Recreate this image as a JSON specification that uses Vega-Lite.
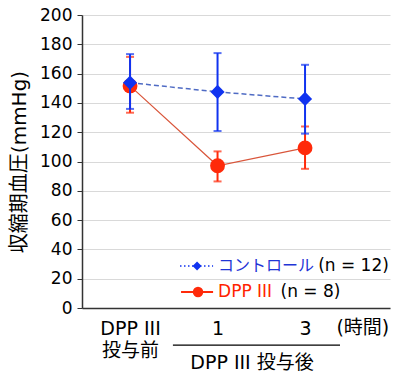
{
  "$schema": "https://vega.github.io/schema/vega-lite/v6.json",
  "width": 308,
  "height": 293,
  "autosize": "none",
  "padding": {"left": 82, "top": 15, "right": 3, "bottom": 73},
  "background": "white",
  "config": {
    "font": "DejaVu Sans, Noto Sans CJK JP",
    "view": {"stroke": null},
    "text": {"font": "DejaVu Sans, Noto Sans CJK JP"}
  },
  "datasets": {
    "bp": [
      {"group": "DPP III", "pos": 0, "mean": 151.6, "lo": 133.3, "hi": 171.4},
      {"group": "DPP III", "pos": 1, "mean": 97.1, "lo": 86.4, "hi": 106.9},
      {"group": "DPP III", "pos": 2, "mean": 109.3, "lo": 95.0, "hi": 123.9},
      {"group": "コントロール", "pos": 0, "mean": 153.8, "lo": 135.9, "hi": 173.3},
      {"group": "コントロール", "pos": 1, "mean": 147.5, "lo": 120.8, "hi": 174.0},
      {"group": "コントロール", "pos": 2, "mean": 142.7, "lo": 119.0, "hi": 166.0}
    ],
    "legendRows": [
      {"group": "コントロール", "y": 28.7, "a": 0.571, "b": 0.949, "s": 0.766},
      {"group": "DPP III", "y": 10.9, "a": 0.583, "b": 0.949, "s": 0.777}
    ],
    "blueText": [{"x": 1.006, "y": 28.7, "label": "コントロール"}],
    "redText": [{"x": 1.006, "y": 10.9, "label": "DPP III"}],
    "blackText": [
      {"x": 2.15, "y": 28.7, "label": "(n = 12)"},
      {"x": 1.72, "y": 10.9, "label": "(n = 8)"}
    ],
    "unitText": [{"x": 2.66, "y": -13.5, "label": "(時間)"}],
    "bottomText": [{"x": 1.394, "y": -37.5, "label": "DPP III 投与後"}],
    "bracket": [{"a": 0.49, "b": 2.4, "y": -25.3}]
  },
  "layer": [
    {
      "data": {"name": "bp"},
      "transform": [{"filter": "datum.group == 'DPP III'"}],
      "mark": {"type": "line", "color": "#d9553a", "strokeWidth": 1.2},
      "encoding": {
        "x": {
          "field": "pos", "type": "quantitative",
          "scale": {"domain": [-0.549, 2.971], "nice": false, "zero": false},
          "axis": {
            "title": null, "values": [0, 1, 2], "grid": false, "ticks": false,
            "labelExpr": "datum.value == 0 ? ['DPP III', '投与前'] : datum.value == 1 ? '1' : '3'",
            "labelFontSize": 19, "labelColor": "#000", "labelPadding": 11,
            "labelLineHeight": 22, "labelBaseline": "top", "labelOverlap": false, "labelFlush": false,
            "domainColor": "#333", "domainWidth": 1.5
          }
        },
        "y": {
          "field": "mean", "type": "quantitative",
          "scale": {"domain": [0, 200], "nice": false},
          "axis": {
            "title": "収縮期血圧(mmHg)", "values": [0, 20, 40, 60, 80, 100, 120, 140, 160, 180, 200],
            "tickCount": 11, "grid": true, "gridColor": "#d9d9d9", "gridWidth": 1.2,
            "labelFontSize": 17, "labelColor": "#000", "labelPadding": 5, "labelOverlap": false, "labelFlush": false,
            "tickSize": 5, "tickColor": "#333", "domainColor": "#333", "domainWidth": 1.5,
            "titleFontSize": 20, "titleFontWeight": "normal", "titleColor": "#000", "titlePadding": 10
          }
        }
      }
    },
    {
      "data": {"name": "bp"},
      "transform": [{"filter": "datum.group != 'DPP III'"}],
      "mark": {"type": "line", "color": "#4f6bc4", "strokeWidth": 1.5, "strokeDash": [5, 3]},
      "encoding": {
        "x": {"field": "pos", "type": "quantitative", "scale": {"domain": [-0.549, 2.971], "nice": false, "zero": false}},
        "y": {"field": "mean", "type": "quantitative", "scale": {"domain": [0, 200], "nice": false}, "title": "収縮期血圧(mmHg)"}
      }
    },
    {
      "data": {"name": "bp"},
      "transform": [{"filter": "datum.group == 'DPP III'"}],
      "mark": {"type": "rule", "color": "#ff2a0a", "strokeWidth": 2},
      "encoding": {
        "x": {"field": "pos", "type": "quantitative", "scale": {"domain": [-0.549, 2.971], "nice": false, "zero": false}},
        "y": {"field": "lo", "type": "quantitative", "scale": {"domain": [0, 200], "nice": false}, "title": "収縮期血圧(mmHg)"},
        "y2": {"field": "hi"}
      }
    },
    {
      "data": {"name": "bp"},
      "transform": [{"filter": "datum.group == 'DPP III'"}, {"fold": ["lo", "hi"], "as": ["k", "v"]}],
      "mark": {"type": "tick", "orient": "horizontal", "color": "#ff2a0a", "size": 8, "thickness": 2},
      "encoding": {
        "x": {"field": "pos", "type": "quantitative", "scale": {"domain": [-0.549, 2.971], "nice": false, "zero": false}},
        "y": {"field": "v", "type": "quantitative", "scale": {"domain": [0, 200], "nice": false}, "title": "収縮期血圧(mmHg)"}
      }
    },
    {
      "data": {"name": "bp"},
      "transform": [{"filter": "datum.group == 'DPP III'"}],
      "mark": {"type": "point", "shape": "circle", "filled": true, "color": "#ff2a0a", "size": 220, "opacity": 1},
      "encoding": {
        "x": {"field": "pos", "type": "quantitative", "scale": {"domain": [-0.549, 2.971], "nice": false, "zero": false}},
        "y": {"field": "mean", "type": "quantitative", "scale": {"domain": [0, 200], "nice": false}, "title": "収縮期血圧(mmHg)"}
      }
    },
    {
      "data": {"name": "bp"},
      "transform": [{"filter": "datum.group != 'DPP III'"}],
      "mark": {"type": "rule", "color": "#1033f0", "strokeWidth": 2},
      "encoding": {
        "x": {"field": "pos", "type": "quantitative", "scale": {"domain": [-0.549, 2.971], "nice": false, "zero": false}},
        "y": {"field": "lo", "type": "quantitative", "scale": {"domain": [0, 200], "nice": false}, "title": "収縮期血圧(mmHg)"},
        "y2": {"field": "hi"}
      }
    },
    {
      "data": {"name": "bp"},
      "transform": [{"filter": "datum.group != 'DPP III'"}, {"fold": ["lo", "hi"], "as": ["k", "v"]}],
      "mark": {"type": "tick", "orient": "horizontal", "color": "#1033f0", "size": 8, "thickness": 2},
      "encoding": {
        "x": {"field": "pos", "type": "quantitative", "scale": {"domain": [-0.549, 2.971], "nice": false, "zero": false}},
        "y": {"field": "v", "type": "quantitative", "scale": {"domain": [0, 200], "nice": false}, "title": "収縮期血圧(mmHg)"}
      }
    },
    {
      "data": {"name": "bp"},
      "transform": [{"filter": "datum.group != 'DPP III'"}],
      "mark": {"type": "point", "shape": "diamond", "filled": true, "color": "#1033f0", "size": 200, "opacity": 1},
      "encoding": {
        "x": {"field": "pos", "type": "quantitative", "scale": {"domain": [-0.549, 2.971], "nice": false, "zero": false}},
        "y": {"field": "mean", "type": "quantitative", "scale": {"domain": [0, 200], "nice": false}, "title": "収縮期血圧(mmHg)"}
      }
    },
    {
      "data": {"name": "legendRows"},
      "transform": [{"filter": "datum.group == 'DPP III'"}],
      "mark": {"type": "rule", "color": "#ff2a0a", "strokeWidth": 2},
      "encoding": {
        "x": {"field": "a", "type": "quantitative", "scale": {"domain": [-0.549, 2.971], "nice": false, "zero": false}},
        "x2": {"field": "b"},
        "y": {"field": "y", "type": "quantitative", "scale": {"domain": [0, 200], "nice": false}, "title": "収縮期血圧(mmHg)"}
      }
    },
    {
      "data": {"name": "legendRows"},
      "transform": [{"filter": "datum.group != 'DPP III'"}],
      "mark": {"type": "rule", "color": "#1033f0", "strokeWidth": 1.5, "strokeDash": [1.5, 2.5]},
      "encoding": {
        "x": {"field": "a", "type": "quantitative", "scale": {"domain": [-0.549, 2.971], "nice": false, "zero": false}},
        "x2": {"field": "b"},
        "y": {"field": "y", "type": "quantitative", "scale": {"domain": [0, 200], "nice": false}, "title": "収縮期血圧(mmHg)"}
      }
    },
    {
      "data": {"name": "legendRows"},
      "transform": [{"filter": "datum.group == 'DPP III'"}],
      "mark": {"type": "point", "shape": "circle", "filled": true, "color": "#ff2a0a", "size": 110, "opacity": 1},
      "encoding": {
        "x": {"field": "s", "type": "quantitative", "scale": {"domain": [-0.549, 2.971], "nice": false, "zero": false}},
        "y": {"field": "y", "type": "quantitative", "scale": {"domain": [0, 200], "nice": false}, "title": "収縮期血圧(mmHg)"}
      }
    },
    {
      "data": {"name": "legendRows"},
      "transform": [{"filter": "datum.group != 'DPP III'"}],
      "mark": {"type": "point", "shape": "diamond", "filled": true, "color": "#1033f0", "size": 80, "opacity": 1},
      "encoding": {
        "x": {"field": "s", "type": "quantitative", "scale": {"domain": [-0.549, 2.971], "nice": false, "zero": false}},
        "y": {"field": "y", "type": "quantitative", "scale": {"domain": [0, 200], "nice": false}, "title": "収縮期血圧(mmHg)"}
      }
    },
    {
      "data": {"name": "blueText"},
      "mark": {"type": "text", "align": "left", "baseline": "middle", "fontSize": 16, "color": "#1f35d6"},
      "encoding": {
        "x": {"field": "x", "type": "quantitative", "scale": {"domain": [-0.549, 2.971], "nice": false, "zero": false}},
        "y": {"field": "y", "type": "quantitative", "scale": {"domain": [0, 200], "nice": false}, "title": "収縮期血圧(mmHg)"},
        "text": {"field": "label"}
      }
    },
    {
      "data": {"name": "redText"},
      "mark": {"type": "text", "align": "left", "baseline": "middle", "fontSize": 17, "color": "#ff2200"},
      "encoding": {
        "x": {"field": "x", "type": "quantitative", "scale": {"domain": [-0.549, 2.971], "nice": false, "zero": false}},
        "y": {"field": "y", "type": "quantitative", "scale": {"domain": [0, 200], "nice": false}, "title": "収縮期血圧(mmHg)"},
        "text": {"field": "label"}
      }
    },
    {
      "data": {"name": "blackText"},
      "mark": {"type": "text", "align": "left", "baseline": "middle", "fontSize": 17, "color": "#000"},
      "encoding": {
        "x": {"field": "x", "type": "quantitative", "scale": {"domain": [-0.549, 2.971], "nice": false, "zero": false}},
        "y": {"field": "y", "type": "quantitative", "scale": {"domain": [0, 200], "nice": false}, "title": "収縮期血圧(mmHg)"},
        "text": {"field": "label"}
      }
    },
    {
      "data": {"name": "unitText"},
      "mark": {"type": "text", "align": "center", "baseline": "middle", "fontSize": 19, "color": "#000"},
      "encoding": {
        "x": {"field": "x", "type": "quantitative", "scale": {"domain": [-0.549, 2.971], "nice": false, "zero": false}},
        "y": {"field": "y", "type": "quantitative", "scale": {"domain": [0, 200], "nice": false}, "title": "収縮期血圧(mmHg)"},
        "text": {"field": "label"}
      }
    },
    {
      "data": {"name": "bottomText"},
      "mark": {"type": "text", "align": "center", "baseline": "middle", "fontSize": 19, "color": "#000"},
      "encoding": {
        "x": {"field": "x", "type": "quantitative", "scale": {"domain": [-0.549, 2.971], "nice": false, "zero": false}},
        "y": {"field": "y", "type": "quantitative", "scale": {"domain": [0, 200], "nice": false}, "title": "収縮期血圧(mmHg)"},
        "text": {"field": "label"}
      }
    },
    {
      "data": {"name": "bracket"},
      "mark": {"type": "rule", "color": "#000", "strokeWidth": 1.3},
      "encoding": {
        "x": {"field": "a", "type": "quantitative", "scale": {"domain": [-0.549, 2.971], "nice": false, "zero": false}},
        "x2": {"field": "b"},
        "y": {"field": "y", "type": "quantitative", "scale": {"domain": [0, 200], "nice": false}, "title": "収縮期血圧(mmHg)"}
      }
    }
  ]
}
